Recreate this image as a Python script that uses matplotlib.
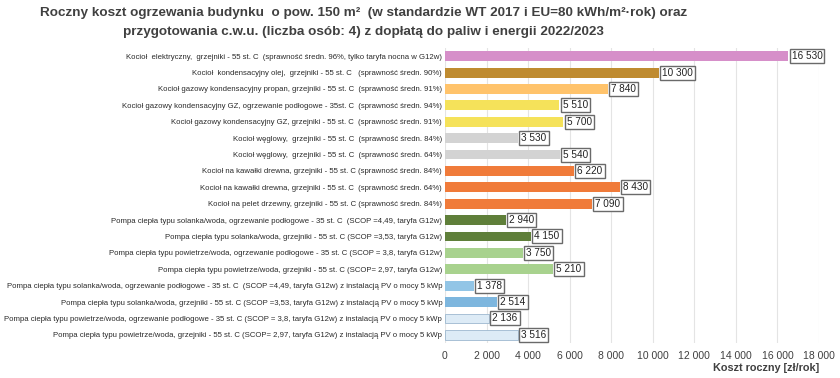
import matplotlib.pyplot as plt
from matplotlib.ticker import FuncFormatter

plt.rcParams['font.family'] = ['Liberation Sans', 'DejaVu Sans']

labels = [
    "Kocioł  elektryczny,  grzejniki - 55 st. C  (sprawność średn. 96%, tylko taryfa nocna w G12w)",
    "Kocioł  kondensacyjny olej,  grzejniki - 55 st. C   (sprawność średn. 90%)",
    "Kocioł gazowy kondensacyjny propan, grzejniki - 55 st. C  (sprawność średn. 91%)",
    "Kocioł gazowy kondensacyjny GZ, ogrzewanie podłogowe - 35st. C  (sprawność średn. 94%)",
    "Kocioł gazowy kondensacyjny GZ, grzejniki - 55 st. C  (sprawność średn. 91%)",
    "Kocioł węglowy,  grzejniki - 55 st. C  (sprawność średn. 84%)",
    "Kocioł węglowy,  grzejniki - 55 st. C  (sprawność średn. 64%)",
    "Kocioł na kawałki drewna, grzejniki - 55 st. C (sprawność średn. 84%)",
    "Kocioł na kawałki drewna, grzejniki - 55 st. C  (sprawność średn. 64%)",
    "Kocioł na pelet drzewny, grzejniki - 55 st. C (sprawność średn. 84%)",
    "Pompa ciepła typu solanka/woda, ogrzewanie podłogowe - 35 st. C  (SCOP =4,49, taryfa G12w)",
    "Pompa ciepła typu solanka/woda, grzejniki - 55 st. C (SCOP =3,53, taryfa G12w)",
    "Pompa ciepła typu powietrze/woda, ogrzewanie podłogowe - 35 st. C (SCOP = 3,8, taryfa G12w)",
    "Pompa ciepła typu powietrze/woda, grzejniki - 55 st. C (SCOP= 2,97, taryfa G12w)",
    "Pompa ciepła typu solanka/woda, ogrzewanie podłogowe - 35 st. C  (SCOP =4,49, taryfa G12w) z instalacją PV o mocy 5 kWp",
    "Pompa ciepła typu solanka/woda, grzejniki - 55 st. C (SCOP =3,53, taryfa G12w) z instalacją PV o mocy 5 kWp",
    "Pompa ciepła typu powietrze/woda, ogrzewanie podłogowe - 35 st. C (SCOP = 3,8, taryfa G12w) z instalacją PV o mocy 5 kWp",
    "Pompa ciepła typu powietrze/woda, grzejniki - 55 st. C (SCOP= 2,97, taryfa G12w) z instalacją PV o mocy 5 kWp",
]
costs = [16530, 10300, 7840, 5510, 5700, 3530, 5540, 6220, 8430, 7090,
         2940, 4150, 3750, 5210, 1378, 2514, 2136, 3516]
colors = ['#D68FC9', '#BF8B30', '#FFC36B', '#F5E25A', '#F5E25A', '#D3D3D3', '#D3D3D3',
          '#F07B3A', '#F07B3A', '#F07B3A', '#5F7F3A', '#5F7F3A', '#A8D28E', '#A8D28E',
          '#92C5E6', '#7DB6DE', '#DDEBF6', '#DDEBF6']

fig = plt.figure(figsize=(8.4, 3.78), dpi=100)
ax = fig.add_axes([445 / 840, 1 - 343 / 378, (819 - 445) / 840, (343 - 48) / 378])

y = list(range(len(labels)))
ax.barh(y, costs, height=0.6, color=colors, edgecolor=['none'] * 16 + ['#9DB8CF'] * 2,
        linewidth=0.6, zorder=3)
ax.set_ylim(len(labels) - 0.5, -0.5)
ax.set_xlim(0, 18000)
ax.set_xticks(range(0, 18001, 2000))
ax.xaxis.set_major_formatter(FuncFormatter(lambda v, p: f"{int(v):,}".replace(',', ' ')))
ax.grid(axis='x', color='#E4E4E4', linewidth=0.8, zorder=0)
for s in ax.spines.values():
    s.set_visible(False)
ax.tick_params(length=0)
ax.tick_params(axis='x', labelsize=7.5, colors='#404040', pad=6)
ax.set_yticks(y)
ax.set_yticklabels(labels, fontsize=5.6, color='#2a2a2a')
ax.tick_params(axis='y', pad=2)

for yi, v in zip(y, costs):
    ax.text(v + 150, yi, f"{v:,}".replace(',', ' '), va='center', ha='left', fontsize=7.2,
            color='#222222', zorder=4,
            bbox=dict(boxstyle='square,pad=0.2', fc='white', ec='#6a6a6a', lw=1.0))

ax.set_xlabel('Koszt roczny [zł/rok]', fontsize=7.8, fontweight='bold', color='#404040',
              loc='right', labelpad=1)

fig.text(0.433, 0.965, 'Roczny koszt ogrzewania budynku  o pow. 150 m²  (w standardzie WT 2017 i EU=80 kWh/m²·rok) oraz',
         ha='center', va='center', fontsize=9.7, fontweight='bold', color='#404040')
fig.text(0.433, 0.915, 'przygotowania c.w.u. (liczba osób: 4) z dopłatą do paliw i energii 2022/2023',
         ha='center', va='center', fontsize=9.7, fontweight='bold', color='#404040')

fig.savefig('out.png', dpi=100, facecolor='white')
